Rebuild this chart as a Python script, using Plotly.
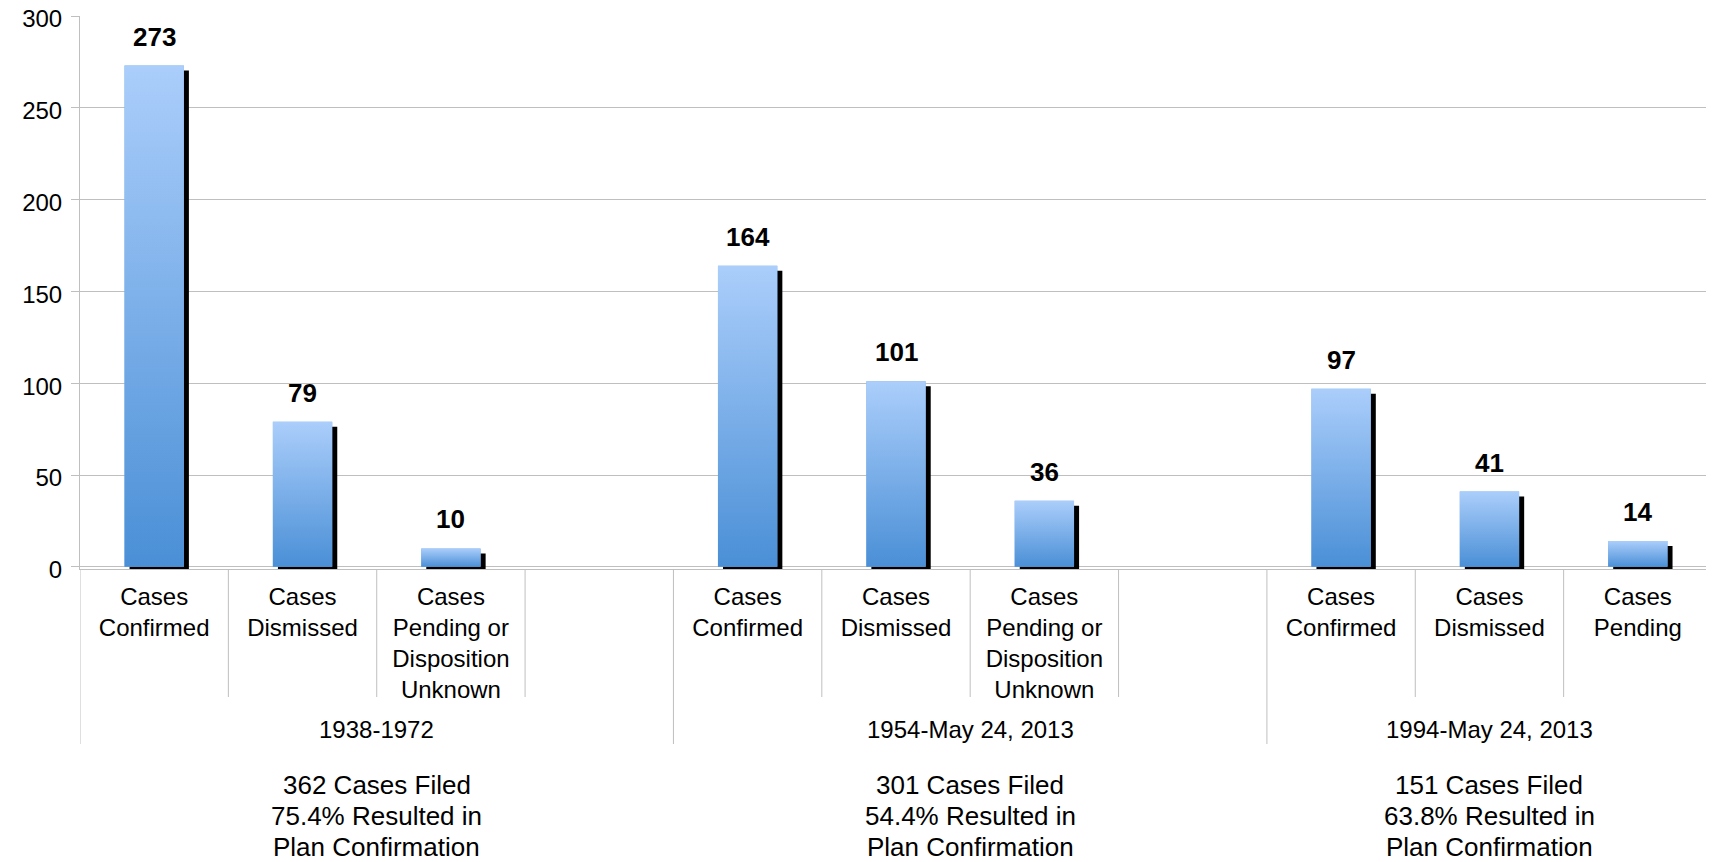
import plotly.graph_objects as go

# ---- data ----
groups = ["1938-1972"] * 4 + ["1954-May 24, 2013"] * 4 + ["1994-May 24, 2013"] * 3
categories = ["Cases<br>Confirmed", "Cases<br>Dismissed", "Cases<br>Pending or<br>Disposition<br>Unknown", "",
              "Cases<br>Confirmed", "Cases<br>Dismissed", "Cases<br>Pending or<br>Disposition<br>Unknown", "",
              "Cases<br>Confirmed", "Cases<br>Dismissed", "Cases<br>Pending"]
values = [273, 79, 10, None, 164, 101, 36, None, 97, 41, 14]
group_names = ["1938-1972", "1954-May 24, 2013", "1994-May 24, 2013"]
cases_filed = [362, 301, 151]
pct_confirmed = ["75.4", "54.4", "63.8"]

# ---- style ----
FONT = "Liberation Sans, Arial, sans-serif"
GRID = "#bfbfbf"
BAR_W = 0.4
SHADOW_DX = 0.034   # ~5px in category units
SHADOW_TOP = 2.7    # ~5px in y units
SHADOW_BASE = -1.2  # ~2px below zero
TOP_C = "#abcefb"
BOT_C = "#4a8fd6"
SHORT_SEP = -0.2315
LONG_SEP = -0.3165
GROUP_Y = -0.291

n = len(values)
# unique category keys (invisible zero-width suffix keeps repeated labels distinct)
x_keys = [c + "\u200b" * (group_names.index(g) + (1 if c == "" else 0))
          for c, g in zip(categories, groups)]

fig = go.Figure()

# shadow bars
fig.add_trace(go.Bar(
    x=x_keys,
    y=[None if v is None else v - SHADOW_TOP - SHADOW_BASE for v in values],
    base=SHADOW_BASE, width=BAR_W, offset=-BAR_W / 2 + SHADOW_DX,
    marker=dict(color="black", line=dict(width=0)),
    hoverinfo="skip", showlegend=False,
))
# main bars
fig.add_trace(go.Bar(
    x=x_keys, y=values, width=BAR_W, offset=-BAR_W / 2,
    marker=dict(color="#78aeea", line=dict(width=0)),
    showlegend=False,
))

# gradient overlay for each bar (on overlaying linear axis x2)
for i, v in enumerate(values):
    if v is None:
        continue
    fig.add_trace(go.Scatter(
        x=[i - BAR_W / 2, i + BAR_W / 2, i + BAR_W / 2, i - BAR_W / 2, i - BAR_W / 2],
        y=[0, 0, v, v, 0],
        xaxis="x2", yaxis="y", mode="lines", line=dict(width=0),
        fill="toself",
        fillgradient=dict(type="vertical", colorscale=[[0, BOT_C], [1, TOP_C]]),
        hoverinfo="skip", showlegend=False,
    ))
    fig.add_annotation(
        x=i, y=v, xref="x2", yref="y", text=f"<b>{v}</b>", showarrow=False,
        yanchor="bottom", yshift=12, font=dict(family=FONT, size=26, color="black"),
    )

# separators: short between categories, long at group boundaries
for b in range(-1, n):
    pos = b + 0.5
    is_group_edge = b == -1 or b == n - 1 or groups[b + 1] != groups[b]
    fig.add_shape(type="line", xref="x2", yref="paper",
                  x0=pos, x1=pos, y0=0, y1=LONG_SEP if is_group_edge else SHORT_SEP,
                  line=dict(color=GRID, width=1))

# group labels and bottom summary text
for gi, g in enumerate(group_names):
    idx = [i for i, gg in enumerate(groups) if gg == g]
    center = (idx[0] + idx[-1]) / 2
    fig.add_annotation(x=center, y=GROUP_Y, xref="x2", yref="paper", text=g,
                       showarrow=False, yanchor="middle",
                       font=dict(family=FONT, size=24, color="black"))
    lines = [f"{cases_filed[gi]} Cases Filed", f"{pct_confirmed[gi]}% Resulted in", "Plan Confirmation"]
    for txt, yy in zip(lines, [-0.390, -0.446, -0.503]):
        fig.add_annotation(x=center, y=yy, xref="x2", yref="paper", text=txt,
                           showarrow=False, yanchor="middle",
                           font=dict(family=FONT, size=26, color="black"))

fig.update_layout(
    width=1714, height=862,
    margin=dict(l=72, r=10, t=8, b=301, autoexpand=False),
    paper_bgcolor="white", plot_bgcolor="white",
    barmode="overlay",
    font=dict(family=FONT, size=24, color="black"),
    xaxis=dict(
        type="category", range=[-0.5, n - 0.5], automargin=False,
        showline=True, linecolor=GRID, linewidth=1,
        showgrid=False, ticks="", ticklabelstandoff=6,
        tickfont=dict(family=FONT, size=24, color="black"),
    ),
    xaxis2=dict(overlaying="x", range=[-0.5, n - 0.5], visible=False),
    yaxis=dict(
        range=[SHADOW_BASE, 300], dtick=50, showgrid=True, gridcolor=GRID, gridwidth=1,
        zeroline=False, showline=True, linecolor=GRID, linewidth=1, automargin=False,
        ticks="outside", ticklen=8, tickcolor=GRID, ticklabelstandoff=4,
        ticklabelshift=3, ticklabeloverflow="allow",
        tickfont=dict(family=FONT, size=24, color="black"),
    ),
)

fig.write_html("out.html")
